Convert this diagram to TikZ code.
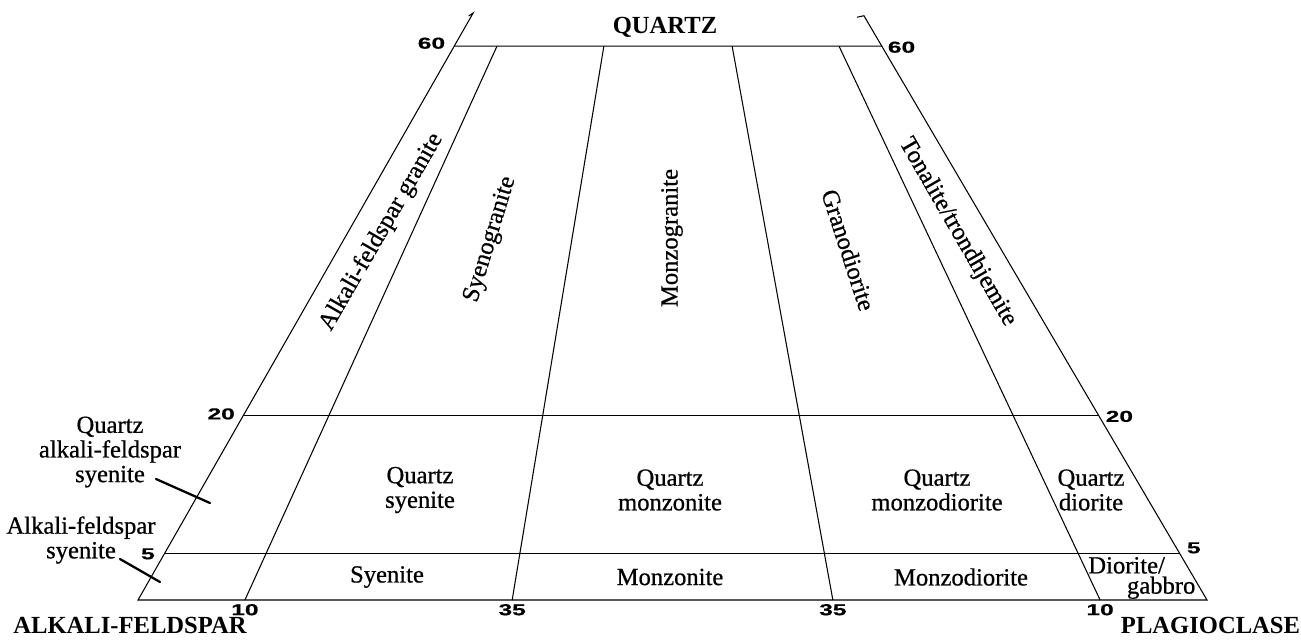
\documentclass[tikz,border=0pt]{standalone}
\usepackage{fontspec}
\setmainfont{Liberation Serif}
\newfontfamily\campofont{Liberation Serif}[FakeBold=0.7]
\newfontfamily\numfont{Liberation Sans}[FakeBold=0.5]
\usepackage{tikz}
\usetikzlibrary{calc}
\newcommand{\largo}[1]{\scalebox{1.55}[1]{#1}}

\begin{document}
\begin{tikzpicture}[
    linha/.style={line width=0.6pt},
    guia/.style={line width=1.3pt, line cap=round},
    num/.style={font=\numfont\bfseries\fontsize{9}{9}\selectfont, inner sep=1pt},
    campo/.style={font=\campofont\fontsize{14}{14}\selectfont, align=center, inner sep=0pt},
    vertice/.style={font=\fontsize{14}{14}\selectfont\bfseries, inner sep=0pt}]
    \useasboundingbox (0,0) rectangle (26.02,12.78);
    % Vértices do triângulo QAP
    \coordinate (A) at (2.76,0.78);
    \coordinate (P) at (24.14,0.78);
    \coordinate (Q) at (13.30,19.24);
    % Níveis de quartzo nos lados
    \coordinate (l60) at ($(A)!0.6!(Q)$);
    \coordinate (r60) at ($(P)!0.6!(Q)$);
    \coordinate (l20) at ($(A)!0.2!(Q)$);
    \coordinate (r20) at ($(P)!0.2!(Q)$);
    \coordinate (l5) at ($(A)!0.05!(Q)$);
    \coordinate (r5) at ($(P)!0.05!(Q)$);
    \coordinate (lsup) at ($(A)!0.636!(Q)$);
    \coordinate (rsup) at ($(P)!0.633!(Q)$);
    % Contorno truncado
    \draw[linha] (A) -- (l60) -- (r60) -- (P) -- cycle;
    \draw[linha] (l60) -- (lsup) -- ++(-0.09,-0.06);
    \draw[linha] (r60) -- (rsup) -- ++(-0.14,-0.03);
    \draw[linha] (l20) -- (r20);
    \draw[linha] (l5) -- (r5);
    % Linhas de razão P/(A+P)
    \foreach \r/\lab/\nome in {0.10/10/a, 0.35/35/b, 0.65/35/c, 0.90/10/d} {
      \coordinate (base\nome) at ($(A)!\r!(P)$);
      \coordinate (topo\nome) at ($(base\nome)!0.6!(Q)$);
      \draw[linha] (base\nome) -- (topo\nome);
      \node[num, anchor=north] (n\nome) at ($(base\nome)+(0,-0.04)$) {\largo{\lab}};
    }
    % Valores de quartzo
    \node[num, anchor=east] (n60l) at ($(l60)+(-0.14,0.06)$) {\largo{60}};
    \node[num, anchor=west] (n60r) at ($(r60)+(0.08,-0.02)$) {\largo{60}};
    \node[num, anchor=east] (n20l) at ($(l20)+(-0.13,0.03)$) {\largo{20}};
    \node[num, anchor=west] (n20r) at ($(r20)+(0.10,-0.02)$) {\largo{20}};
    \node[num, anchor=east] (n5l) at ($(l5)+(-0.15,0)$) {\largo{5}};
    \node[num, anchor=west] (n5r) at ($(r5)+(0.10,0.12)$) {\largo{5}};
    % Vértices
    \node[vertice] (quartzo) at (13.30,12.24) {QUARTZ};
    \node[vertice] (alcalino) at (2.60,0.27) {ALKALI-FELDSPAR};
    \node[vertice] (plagio) at (24.21,0.27) {PLAGIOCLASE};
    % Campos superiores
    \node[campo, rotate=60] (afgranito) at (7.63,8.14) {Alkali-feldspar granite};
    \node[campo, rotate=73] (sienogranito) at (9.81,7.99) {Syenogranite};
    \node[campo, rotate=90] (monzogranito) at (13.44,8.02) {Monzogranite};
    \node[campo, rotate=-72] (granodiorito) at (16.97,7.78) {Granodiorite};
    \node[campo, rotate=-60] (tonalito) at (19.15,8.14) {Tonalite/trondhjemite};
    % Campos com quartzo
    \node[campo] (qsienito) at (8.40,2.98) {Quartz\\syenite};
    \node[campo] (qmonzonito) at (13.40,2.98) {Quartz\\monzonite};
    \node[campo] (qmonzodiorito) at (18.74,2.98) {Quartz\\monzodiorite};
    \node[campo] (qdiorito) at (21.82,2.98) {Quartz\\diorite};
    % Campos inferiores
    \node[campo] (sienito) at (7.74,1.24) {Syenite};
    \node[campo] (monzonito) at (13.40,1.24) {Monzonite};
    \node[campo] (monzodiorito) at (19.22,1.24) {Monzodiorite};
    \node[campo, align=left, anchor=west, font=\campofont\fontsize{14}{11.5}\selectfont] (diorito) at (21.76,1.22)
      {Diorite/\\\hspace*{22pt}gabbro};
    % Campos fora do triângulo, com guias
    \node[campo] (qafsienito) at (2.20,3.74) {Quartz\\alkali-feldspar\\syenite};
    \node[campo] (afsienito) at (1.62,1.98) {Alkali-feldspar\\syenite};
    \coordinate (qafs-ini) at (3.12,3.20);
    \coordinate (qafs-fim) at (4.20,2.72);
    \coordinate (afs-ini) at (2.40,1.60);
    \coordinate (afs-fim) at (3.20,1.14);
    \draw[guia] (qafs-ini) -- (qafs-fim);
    \draw[guia] (afs-ini) -- (afs-fim);
\end{tikzpicture}
\end{document}
